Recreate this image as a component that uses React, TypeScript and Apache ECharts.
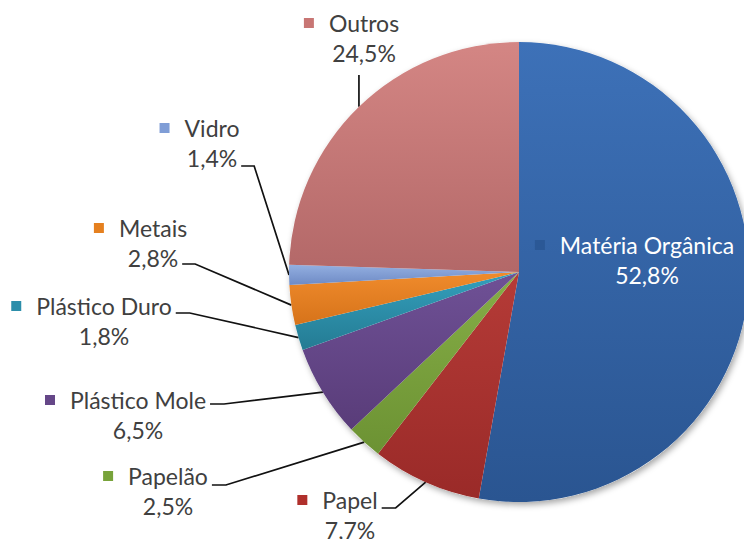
import React, { useEffect, useRef } from 'react';
import * as echarts from 'echarts';

const categories = ['Matéria Orgânica', 'Papel', 'Papelão', 'Plástico Mole', 'Plástico Duro', 'Metais', 'Vidro', 'Outros'];
const shares = [52.8, 7.7, 2.5, 6.5, 1.8, 2.8, 1.4, 24.5];
const shareLabels = ['52,8%', '7,7%', '2,5%', '6,5%', '1,8%', '2,8%', '1,4%', '24,5%'];

const topColors = ['#3d71b8', '#b53b37', '#86ae47', '#6f5196', '#34a0bd', '#f08b2c', '#93afe1', '#d48684'];
const bottomColors = ['#2a5591', '#9a2a28', '#6c9233', '#593c79', '#247b93', '#d6731a', '#6e8ac4', '#b36868'];
const keyColors = ['#2b5896', '#b0302c', '#78a33a', '#654788', '#2c8eaa', '#e5801f', '#7f9dd6', '#c87674'];

// label placement (centre x of the name, middle y of the name line) and leader-line attachment
const CX = 519;
const CY = 272;
const R = 230;
const LINE_H = 30;
const FONT = 'Lato';
const FS = 23;
const placement = [
  { x: 647, y: 245, attach: 'none', dy: 0 },
  { x: 350, y: 500, attach: 'name', dy: 8 },
  { x: 168, y: 476, attach: 'name', dy: 9 },
  { x: 138, y: 400, attach: 'name', dy: 4 },
  { x: 104, y: 306, attach: 'name', dy: 7 },
  { x: 153, y: 228, attach: 'pct', dy: 6 },
  { x: 212, y: 128, attach: 'pct', dy: 8 },
  { x: 364, y: 23, attach: 'bottom', dy: 22 },
];

let measureCtx: CanvasRenderingContext2D | null = null;
function textWidth(s: string): number {
  if (!measureCtx) {
    const c = document.createElement('canvas');
    measureCtx = c.getContext('2d');
  }
  if (!measureCtx) return s.length * FS * 0.5;
  measureCtx.font = `${FS}px ${FONT}`;
  return measureCtx.measureText(s).width;
}

function edgePoint(idx: number): number[] {
  const total = shares.reduce((a, b) => a + b, 0);
  let acc = 0;
  for (let i = 0; i < idx; i++) acc += shares[i];
  const mid = ((acc + shares[idx] / 2) / total) * Math.PI * 2;
  return [CX + R * Math.sin(mid), CY - R * Math.cos(mid)];
}

export default function App() {
  const ref = useRef<HTMLDivElement>(null);
  useEffect(() => {
    if (!ref.current) return;
    const chart = echarts.init(ref.current, undefined, { renderer: 'svg' });

    const rich: Record<string, any> = {
      n: { fontFamily: FONT, fontSize: FS, color: '#404040', lineHeight: LINE_H },
      nw: { fontFamily: FONT, fontSize: FS, color: '#ffffff', lineHeight: LINE_H },
      p: { fontFamily: FONT, fontSize: FS, color: '#404040', lineHeight: LINE_H },
      pw: { fontFamily: FONT, fontSize: FS, color: '#ffffff', lineHeight: LINE_H },
      g: { width: 15, lineHeight: LINE_H },
      g2: { width: 25, lineHeight: LINE_H },
    };
    keyColors.forEach((c, i) => {
      rich['sq' + i] = { width: 10, height: 10, backgroundColor: c, lineHeight: LINE_H };
    });

    const data = categories.map((name, i) => ({
      name,
      value: shares[i],
      itemStyle: {
        color: new echarts.graphic.LinearGradient(0, 0, 0, 1, [
          { offset: 0, color: topColors[i] },
          { offset: 1, color: bottomColors[i] },
        ]),
      },
      labelLine: { show: i !== 0 },
    }));

    chart.setOption({
      animation: false,
      backgroundColor: '#ffffff',
      series: [
        {
          type: 'pie',
          silent: true,
          center: [CX, CY],
          radius: R,
          startAngle: 90,
          label: { show: false },
          labelLine: { show: false },
          itemStyle: {
            color: '#ffffff',
            shadowBlur: 6,
            shadowOffsetX: 2,
            shadowOffsetY: 3,
            shadowColor: 'rgba(0,0,0,0.35)',
          },
          data: [{ name: 'bg', value: 1 }],
          z: 1,
        },
        {
          type: 'pie',
          center: [CX, CY],
          radius: R,
          startAngle: 90,
          clockwise: true,
          avoidLabelOverlap: false,
          z: 2,
          data,
          label: {
            show: true,
            position: 'outside',
            alignTo: 'none',
            overflow: 'none',
            lineHeight: LINE_H,
            fontFamily: FONT,
            fontSize: FS,
            rich,
            formatter: (p: any) => {
              const i = p.dataIndex;
              const w = i === 0;
              return `{sq${i}|}{g|}{${w ? 'nw' : 'n'}|${categories[i]}}{g2|}\n{${w ? 'pw' : 'p'}|${shareLabels[i]}}`;
            },
          },
          labelLine: {
            show: true,
            smooth: false,
            lineStyle: { color: '#111111', width: 1.7 },
          },
          labelLayout: (params: any) => {
            const i = params.dataIndex;
            const pl = placement[i];
            const res: any = {
              x: pl.x,
              y: pl.y + LINE_H / 2,
              align: 'center',
              verticalAlign: 'middle',
            };
            if (pl.attach === 'none') return res;
            const p0 =
              params.labelLinePoints && params.labelLinePoints[0]
                ? params.labelLinePoints[0]
                : edgePoint(i);
            let end: number[];
            let corner: number[];
            if (pl.attach === 'bottom') {
              end = [p0[0], pl.y + LINE_H + pl.dy];
              corner = [p0[0], (end[1] + p0[1]) / 2];
            } else if (pl.attach === 'name') {
              const ax = pl.x + textWidth(categories[i]) / 2 + 4;
              end = [ax, pl.y + pl.dy];
              corner = [ax + 14, pl.y + pl.dy];
            } else {
              const ax = pl.x + textWidth(shareLabels[i]) / 2 + 4;
              end = [ax, pl.y + LINE_H + pl.dy];
              corner = [ax + 13, pl.y + LINE_H + pl.dy];
            }
            res.labelLinePoints = [p0, corner, end];
            return res;
          },
        },
      ],
    });
    return () => chart.dispose();
  }, []);
  return (
    <div
      ref={ref}
      style={{ position: 'fixed', left: 0, top: 0, width: 744, height: 539 }}
    />
  );
}
